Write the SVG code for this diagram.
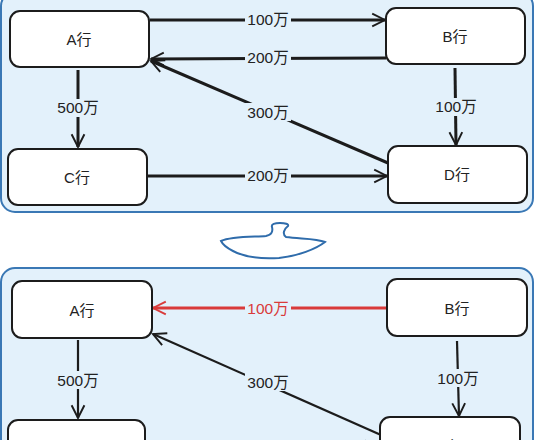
<svg xmlns="http://www.w3.org/2000/svg" width="537" height="440" viewBox="0 0 537 440">
<style>
.panel{fill:#e3f1fb;stroke:#3a78b5;stroke-width:2}
.node rect{fill:#fff;stroke:#1c1c1c;stroke-width:2}
.node text{font-family:"Liberation Sans","Noto Sans CJK SC",sans-serif;font-size:15px;fill:#222;text-anchor:middle;dominant-baseline:central}
.lbl{font-family:"Liberation Sans","Noto Sans CJK SC",sans-serif;font-size:15.5px;fill:#222;text-anchor:middle;dominant-baseline:central}
.lbg{fill:#e3f1fb}
.e{fill:none;stroke:#1c1c1c;stroke-width:3}
.e2{fill:none;stroke:#1c1c1c;stroke-width:2.2}
.red{fill:none;stroke:#d93a3a;stroke-width:3}
</style>
<defs>
<marker id="ah" viewBox="0 0 20 20" refX="18" refY="10" markerWidth="16" markerHeight="16" markerUnits="userSpaceOnUse" orient="auto">
<path d="M2,2 L18,10 L2,18" fill="none" stroke="#1c1c1c" stroke-width="2.4"/>
</marker>
<marker id="ahr" viewBox="0 0 20 20" refX="18" refY="10" markerWidth="16" markerHeight="16" markerUnits="userSpaceOnUse" orient="auto">
<path d="M2,2 L18,10 L2,18" fill="none" stroke="#d93a3a" stroke-width="2.4"/>
</marker>
</defs>
<rect width="537" height="440" fill="#ffffff"/>
<rect class="panel" x="1" y="-8" width="532" height="220" rx="14"/>
<rect class="panel" x="1" y="268" width="532" height="200" rx="14"/>
<path d="M221,241 C232,236 255,237 266,236 C272,235 273,231 272,227 C271,224 275,223 280,223 C285,223 289,224 288,226 C284,229 282,234 286,237 C300,239 316,238 325,242 C316,249 298,256 279,258 C263,259 246,258 233,251 C227,248 223,245 221,241 Z" fill="#ffffff" stroke="#2f6cab" stroke-width="2"/>
<g id="connectors">
<path class="e" d="M150,20 L385,20" marker-end="url(#ah)"/>
<path class="e" d="M386,58 L151,59" marker-end="url(#ah)"/>
<path class="e" d="M388,163 L151,61" marker-end="url(#ah)"/>
<path class="e" d="M78,70 L78,147" marker-end="url(#ah)"/>
<path class="e" d="M455,68 L456,145" marker-end="url(#ah)"/>
<path class="e" d="M148,176 L387,176" marker-end="url(#ah)"/>
<path class="red" d="M387,308 L153,308" marker-end="url(#ahr)"/>
<path class="e2" d="M381,435 L153,334" marker-end="url(#ah)"/>
<path class="e2" d="M78,340 L78,418" marker-end="url(#ah)"/>
<path class="e2" d="M457,341 L459,416" marker-end="url(#ah)"/>
<path class="e2" d="M146,447 L378,447" marker-end="url(#ah)"/>
<rect class="lbg" x="245" y="11" width="46" height="18"/><text class="lbl" x="268" y="19">100万</text>
<rect class="lbg" x="245" y="49" width="46" height="18"/><text class="lbl" x="268" y="57">200万</text>
<rect class="lbg" x="245" y="103" width="46" height="18"/><text class="lbl" x="268" y="112">300万</text>
<rect class="lbg" x="55" y="99" width="46" height="18"/><text class="lbl" x="78" y="107">500万</text>
<rect class="lbg" x="433" y="98" width="46" height="18"/><text class="lbl" x="456" y="106">100万</text>
<rect class="lbg" x="245" y="167" width="46" height="18"/><text class="lbl" x="268" y="175">200万</text>
<rect class="lbg" x="245" y="299" width="46" height="18"/><text class="lbl" x="268" y="308" style="fill:#d93a3a">100万</text>
<rect class="lbg" x="245" y="373" width="46" height="18"/><text class="lbl" x="268" y="382">300万</text>
<rect class="lbg" x="55" y="371" width="46" height="18"/><text class="lbl" x="78" y="380">500万</text>
<rect class="lbg" x="435" y="369" width="46" height="18"/><text class="lbl" x="458" y="378">100万</text>
<rect class="lbg" x="245" y="438" width="46" height="18"/><text class="lbl" x="268" y="447">200万</text>
</g>
<g id="A1" class="node"><rect x="10" y="11" width="139" height="56" rx="10"/><text x="79" y="39">A行</text></g>
<g id="B1" class="node"><rect x="386" y="8" width="139" height="56" rx="10"/><text x="455" y="36">B行</text></g>
<g id="C1" class="node"><rect x="8" y="149" width="139" height="56" rx="10"/><text x="77" y="177">C行</text></g>
<g id="D1" class="node"><rect x="388" y="146" width="139" height="57" rx="10"/><text x="457" y="174">D行</text></g>
<g id="A2" class="node"><rect x="12" y="281" width="140" height="57" rx="10"/><text x="82" y="310">A行</text></g>
<g id="B2" class="node"><rect x="387" y="279" width="140" height="57" rx="10"/><text x="457" y="308">B行</text></g>
<g id="C2" class="node"><rect x="8" y="420" width="137" height="56" rx="10"/><text x="77" y="447">C行</text></g>
<g id="D2" class="node"><rect x="380" y="417" width="140" height="56" rx="10"/><text x="450" y="446">D行</text></g>
</svg>
